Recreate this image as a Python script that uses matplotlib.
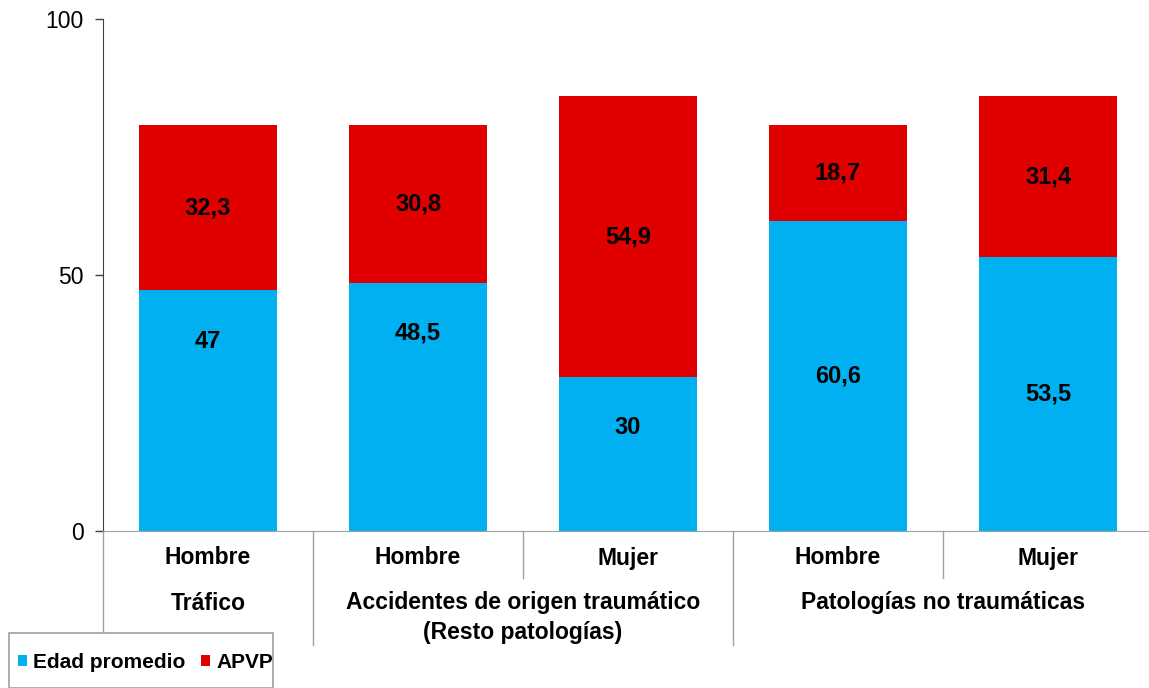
import matplotlib
matplotlib.use("Agg")
import matplotlib.pyplot as plt
from matplotlib.patches import Patch, Rectangle

plt.rcParams['font.family'] = ['Liberation Sans', 'DejaVu Sans']

sexo = ["Hombre", "Hombre", "Mujer", "Hombre", "Mujer"]
grupos = [["Tráfico"], ["Accidentes de origen traumático", "(Resto patologías)"], ["Patologías no traumáticas"]]
grupo_centros = [0, 1.5, 3.5]
edad = [47, 48.5, 30, 60.6, 53.5]
apvp = [32.3, 30.8, 54.9, 18.7, 31.4]
edad_label_y = [37.1, 38.7, 20.3, 30.3, 26.75]
yticks = [0, 50, 100]

BLUE = "#00B0F0"
RED = "#E00000"

W, H = 1149, 688
fig = plt.figure(figsize=(W / 100, H / 100), dpi=100)
ax = fig.add_axes([103 / W, (H - 531) / H, 1050 / W, 512 / H])

x = list(range(len(sexo)))
ax.bar(x, edad, width=0.66, color=BLUE, zorder=2)
ax.bar(x, apvp, width=0.66, bottom=edad, color=RED, zorder=2)

def fmt(v):
    return ("%g" % v).replace(".", ",")

VAL_FS = 17
for i in x:
    ax.text(i, edad_label_y[i], fmt(edad[i]), ha="center", va="center",
            fontsize=VAL_FS, fontweight="bold", color="black")
    ax.text(i, edad[i] + apvp[i] / 2, fmt(apvp[i]), ha="center", va="center",
            fontsize=VAL_FS, fontweight="bold", color="black")

ax.set_xlim(-0.5, 4.5)
ax.set_ylim(0, 100)
ax.set_yticks(yticks)
ax.set_yticklabels([str(t) for t in yticks], fontsize=16.5)
ax.set_xticks([])
ax.tick_params(axis="y", direction="out", length=6, width=1, color="#404040", pad=8)
for s in ["top", "right"]:
    ax.spines[s].set_visible(False)
ax.spines["left"].set_color("#404040")
ax.spines["bottom"].set_color("#A0A0A0")

tr = ax.get_xaxis_transform()
ax.plot([-0.5, -0.5], [0, -102 / 512], transform=tr, color="#A0A0A0", lw=1, clip_on=False)
for xs in [0.5, 2.5]:
    ax.plot([xs, xs], [0, -114 / 512], transform=tr, color="#A0A0A0", lw=1, clip_on=False)
for xs in [1.5, 3.5]:
    ax.plot([xs, xs], [0, -47 / 512], transform=tr, color="#A0A0A0", lw=1, clip_on=False)

LAB_FS = 16.5
for i, s in enumerate(sexo):
    ax.text(i, -27 / 512, s, transform=tr, ha="center", va="center",
            fontsize=LAB_FS, fontweight="bold")
for c, lines in zip(grupo_centros, grupos):
    for k, line in enumerate(lines):
        ax.text(c, -(72 + 30 * k) / 512, line, transform=tr, ha="center", va="center",
                fontsize=LAB_FS, fontweight="bold")

# legend box
fig.patches.append(Rectangle((9 / W, 0), (273 - 9) / W, (H - 633) / H, transform=fig.transFigure,
                             facecolor="white", edgecolor="#A0A0A0", lw=1.2, zorder=5))
handles = [Patch(facecolor=BLUE, label="Edad promedio"), Patch(facecolor=RED, label="APVP")]
leg = fig.legend(handles=handles, loc="center left", bbox_to_anchor=(18 / W, 1 - 662 / H),
                 ncol=2, frameon=False, prop={"size": 15, "weight": "bold"},
                 handlelength=0.43, handleheight=0.43, handletextpad=0.29, columnspacing=0.77,
                 borderaxespad=0, borderpad=0)
leg.set_zorder(6)

fig.savefig("out.png", dpi=100)
